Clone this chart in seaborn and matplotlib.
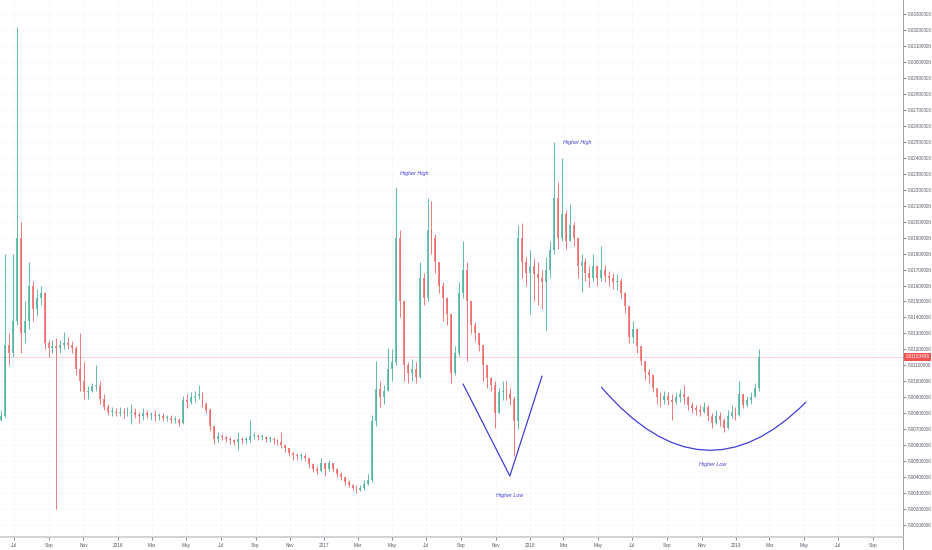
import numpy as np
import pandas as pd
import matplotlib
matplotlib.use("Agg")
import matplotlib.pyplot as plt
import matplotlib.dates as mdates
import matplotlib.transforms as mtransforms
from matplotlib.path import Path
from matplotlib.patches import PathPatch
import seaborn as sns

sns.set_theme(style="white")
plt.rcParams["font.family"] = ["Liberation Sans", "DejaVu Sans"]

# ---------------- data (weekly candles) ----------------
week_start = "2015-06-08"
first_open = 0.0076

close = [
    0.0078, 0.0123, 0.0118, 0.0138, 0.0190, 0.0130, 0.0138, 0.0160, 0.0145, 0.0152,
    0.0155, 0.0124, 0.0121, 0.0122, 0.0121, 0.0123, 0.0124, 0.0123, 0.0121, 0.0108,
    0.0100, 0.0093, 0.0094, 0.0097, 0.0097, 0.0089, 0.0084, 0.0081, 0.0081, 0.0080,
    0.0081, 0.0080, 0.0080, 0.0081, 0.0079, 0.0078, 0.0080, 0.0079, 0.0079, 0.0078,
    0.0078, 0.0077, 0.0077, 0.0076, 0.0076, 0.0074, 0.0088, 0.0087, 0.0090, 0.0091,
    0.0092, 0.0086, 0.0082, 0.0072, 0.0064, 0.0066, 0.0065, 0.0064, 0.0063, 0.0062,
    0.0064, 0.0063, 0.0063, 0.0066, 0.0066, 0.0065, 0.0065, 0.0064, 0.0064, 0.0063,
    0.0062, 0.0060, 0.0058, 0.0055, 0.0054, 0.0053, 0.0053, 0.0052, 0.0048, 0.0045,
    0.0044, 0.0049, 0.0045, 0.0049, 0.0045, 0.0042, 0.0040, 0.0037, 0.0035, 0.0033,
    0.0032, 0.0033, 0.0036, 0.0038, 0.0075, 0.0095, 0.0090, 0.0094, 0.0108, 0.0112,
    0.0190, 0.0150, 0.0110, 0.0105, 0.0108, 0.0103, 0.0165, 0.0152, 0.0195, 0.0190,
    0.0175, 0.0160, 0.0152, 0.0142, 0.0105, 0.0118, 0.0155, 0.0170, 0.0150, 0.0135,
    0.0130, 0.0123, 0.0110, 0.0102, 0.0098, 0.0080, 0.0093, 0.0094, 0.0092, 0.0089,
    0.0075, 0.0190, 0.0175, 0.0168, 0.0172, 0.0167, 0.0165, 0.0162, 0.0170, 0.0182,
    0.0215, 0.0190, 0.0205, 0.0188, 0.0198, 0.0190, 0.0172, 0.0175, 0.0168, 0.0165,
    0.0172, 0.0165, 0.0170, 0.0166, 0.0165, 0.0162, 0.0163, 0.0155, 0.0147, 0.0128,
    0.0133, 0.0122, 0.0113, 0.0106, 0.0104, 0.0096, 0.0090, 0.0088, 0.0091, 0.0088,
    0.0087, 0.0090, 0.0092, 0.0090, 0.0085, 0.0083, 0.0082, 0.0081, 0.0084, 0.0078,
    0.0074, 0.0078, 0.0076, 0.0071, 0.0078, 0.0081, 0.0079, 0.0092, 0.0085, 0.0088,
    0.0090, 0.0096, 0.01153,
]

high = [
    0.0082, 0.0180, 0.0130, 0.0180, 0.0322, 0.0200, 0.0150, 0.0175, 0.0163, 0.0158,
    0.0160, 0.0156, 0.0126, 0.0126, 0.0127, 0.0126, 0.0131, 0.0128, 0.0125, 0.0122,
    0.0130, 0.0112, 0.0097, 0.0099, 0.0110, 0.0100, 0.0092, 0.0086, 0.0084, 0.0083,
    0.0084, 0.0083, 0.0084, 0.0086, 0.0083, 0.0081, 0.0083, 0.0082, 0.0081, 0.0082,
    0.0080, 0.0080, 0.0079, 0.0079, 0.0078, 0.0077, 0.0091, 0.0092, 0.0093, 0.0094,
    0.0098, 0.0093, 0.0087, 0.0083, 0.0072, 0.0068, 0.0067, 0.0066, 0.0065, 0.0064,
    0.0068, 0.0065, 0.0065, 0.0076, 0.0068, 0.0067, 0.0067, 0.0066, 0.0066, 0.0065,
    0.0064, 0.0068, 0.0061, 0.0058, 0.0056, 0.0055, 0.0055, 0.0055, 0.0052, 0.0049,
    0.0047, 0.0052, 0.0049, 0.0051, 0.0049, 0.0046, 0.0043, 0.0040, 0.0038, 0.0036,
    0.0035, 0.0035, 0.0038, 0.0042, 0.0079, 0.0113, 0.0100, 0.0098, 0.0121, 0.0120,
    0.0222, 0.0195, 0.0150, 0.0112, 0.0114, 0.0112, 0.0175, 0.0168, 0.0215, 0.0213,
    0.0192, 0.0172, 0.0162, 0.0153, 0.0140, 0.0122, 0.0162, 0.0188, 0.0175, 0.0148,
    0.0137, 0.0130, 0.0123, 0.0110, 0.0103, 0.0100, 0.0096, 0.0100, 0.0100, 0.0096,
    0.0091, 0.0198, 0.0199, 0.0178, 0.0182, 0.0177, 0.0175, 0.0170, 0.0178, 0.0188,
    0.0250, 0.0225, 0.0240, 0.0207, 0.0211, 0.0200, 0.0190, 0.0180, 0.0177, 0.0172,
    0.0180, 0.0172, 0.0185, 0.0173, 0.0169, 0.0168, 0.0167, 0.0165, 0.0156, 0.0140,
    0.0138, 0.0132, 0.0121, 0.0112, 0.0108, 0.0104, 0.0096, 0.0093, 0.0094, 0.0093,
    0.0092, 0.0093, 0.0095, 0.0098, 0.0091, 0.0087, 0.0085, 0.0085, 0.0087, 0.0085,
    0.0080, 0.0082, 0.0081, 0.0077, 0.0082, 0.0085, 0.0084, 0.0100, 0.0092, 0.0091,
    0.0093, 0.0099, 0.0120,
]

low = [
    0.0075, 0.0077, 0.0110, 0.0115, 0.0135, 0.0118, 0.0124, 0.0133, 0.0138, 0.0141,
    0.0148, 0.0120, 0.0115, 0.0118, 0.0020, 0.0118, 0.0120, 0.0120, 0.0118, 0.0104,
    0.0094, 0.0089, 0.0089, 0.0093, 0.0094, 0.0086, 0.0082, 0.0079, 0.0078, 0.0078,
    0.0078, 0.0077, 0.0078, 0.0073, 0.0077, 0.0074, 0.0076, 0.0077, 0.0076, 0.0075,
    0.0076, 0.0075, 0.0075, 0.0074, 0.0074, 0.0072, 0.0073, 0.0083, 0.0086, 0.0087,
    0.0089, 0.0084, 0.0080, 0.0069, 0.0061, 0.0062, 0.0063, 0.0062, 0.0061, 0.0060,
    0.0057, 0.0061, 0.0061, 0.0062, 0.0064, 0.0063, 0.0063, 0.0062, 0.0062, 0.0061,
    0.0060, 0.0058, 0.0056, 0.0053, 0.0051, 0.0051, 0.0051, 0.0050, 0.0046, 0.0043,
    0.0042, 0.0043, 0.0041, 0.0044, 0.0043, 0.0040, 0.0038, 0.0035, 0.0034, 0.0032,
    0.0030, 0.0031, 0.0032, 0.0035, 0.0037, 0.0072, 0.0084, 0.0086, 0.0097, 0.0100,
    0.0110, 0.0140, 0.0100, 0.0099, 0.0100, 0.0099, 0.0102, 0.0148, 0.0150, 0.0180,
    0.0168, 0.0155, 0.0138, 0.0135, 0.0099, 0.0104, 0.0116, 0.0152, 0.0113, 0.0130,
    0.0125, 0.0119, 0.0100, 0.0096, 0.0094, 0.0071, 0.0080, 0.0088, 0.0088, 0.0085,
    0.0053, 0.0070, 0.0165, 0.0160, 0.0142, 0.0150, 0.0148, 0.0145, 0.0132, 0.0165,
    0.0180, 0.0183, 0.0188, 0.0183, 0.0190, 0.0185, 0.0165, 0.0156, 0.0163, 0.0159,
    0.0163, 0.0160, 0.0163, 0.0162, 0.0160, 0.0158, 0.0157, 0.0152, 0.0143, 0.0124,
    0.0124, 0.0118, 0.0110, 0.0101, 0.0099, 0.0093, 0.0086, 0.0084, 0.0086, 0.0085,
    0.0076, 0.0086, 0.0087, 0.0086, 0.0082, 0.0080, 0.0079, 0.0078, 0.0080, 0.0075,
    0.0071, 0.0073, 0.0072, 0.0068, 0.0070, 0.0077, 0.0076, 0.0078, 0.0083, 0.0084,
    0.0086, 0.0090, 0.0094,
]

last_price = 0.01153
last_price_label = "0.01153498"

price_ticks = [round(0.001 * k, 3) for k in range(1, 34)]

# annotation drawings (dates / prices)
v_dates = ["2017-09-04", "2017-11-26", "2018-01-22"]
v_prices = [0.00983, 0.00407, 0.01033]
arc_dates = ["2018-05-07", "2018-11-03", "2019-05-05"]   # start, control, end
arc_prices = [0.00964, 0.00222, 0.00870]
note_texts = ["Higher High", "Higher High", "Higher Low", "Higher Low"]
note_dates = ["2017-06-09", "2018-03-25", "2017-11-26", "2018-11-21"]
note_prices = [0.02304, 0.02498, 0.00288, 0.00482]

x_start, x_end = "2015-06-06", "2019-10-24"
y_min, y_max = 0.00025, 0.03388

# ---------------- figure ----------------
W, H = 932, 550
fig = plt.figure(figsize=(W / 100, H / 100), dpi=100)
fig.patch.set_facecolor("white")
ax = fig.add_axes([0, 13 / H, 903 / W, 537 / H])
ax.set_facecolor("white")

df = pd.DataFrame({
    "date": pd.date_range(week_start, periods=len(close), freq="7D"),
    "close": close, "high": high, "low": low,
})
df["open"] = [first_open] + close[:-1]
up_col, dn_col = "#4fb5a0", "#ee6b6b"
xs = mdates.date2num(df["date"])
o = df["open"].to_numpy(); c = df["close"].to_numpy()
hi = np.maximum(df["high"].to_numpy(), np.maximum(o, c))
lo = np.minimum(df["low"].to_numpy(), np.minimum(o, c))
is_up = c >= o
cols = np.where(is_up, up_col, dn_col)

# price line
ax.axhline(last_price, color="#f8d4d4", lw=0.8, zorder=1)

ax.vlines(xs, lo, hi, colors=cols, lw=0.7, alpha=0.9, zorder=2)
body_h = np.maximum(np.abs(c - o), 0.00006)
ax.bar(xs, body_h, bottom=np.minimum(o, c), width=3.4, color=cols,
       edgecolor="none", alpha=0.8, zorder=3)

# annotations
blue = "#3f3fd6"
sns.lineplot(x=pd.to_datetime(v_dates), y=v_prices, sort=False, ax=ax,
             color=blue, lw=0.9, zorder=4)
ad = mdates.date2num(pd.to_datetime(arc_dates))
arc = Path(list(zip(ad, arc_prices)), [Path.MOVETO, Path.CURVE3, Path.CURVE3])
ax.add_patch(PathPatch(arc, fill=False, ec=blue, lw=0.9, zorder=4))
for t, d, p in zip(note_texts, note_dates, note_prices):
    ax.text(pd.Timestamp(d), p, t, color=blue, fontsize=3.9, style="italic",
            ha="center", va="center", zorder=5)

# axes
ax.set_xlim(pd.Timestamp(x_start), pd.Timestamp(x_end))
ax.set_ylim(y_min, y_max)
ax.yaxis.tick_right()
ax.set_yticks(price_ticks)
ax.set_yticklabels([f"{v:.8f}" for v in price_ticks])
ax.xaxis.set_major_locator(mdates.MonthLocator(bymonth=[1, 3, 5, 7, 9, 11]))
labels = []
for d in mdates.num2date(ax.get_xticks()):
    labels.append(str(d.year) if d.month == 1 else d.strftime("%b"))
ax.set_xticks(ax.get_xticks())
ax.set_xticklabels(labels)
ax.tick_params(axis="y", right=True, left=False, length=2, width=0.5,
               colors="#555a66", labelsize=3.3, pad=1.2, direction="out")
ax.tick_params(axis="x", bottom=True, length=2, width=0.5,
               colors="#555a66", labelsize=3.4, pad=2.5, direction="out")
ax.set_xlabel(""); ax.set_ylabel("")
ax.grid(True, color="#f5f6f9", lw=0.5)
for s in ["top", "left"]:
    ax.spines[s].set_visible(False)
ax.spines["right"].set_color("#9ea2ab"); ax.spines["right"].set_linewidth(0.7)
ax.spines["bottom"].set_color("#c9cbd0"); ax.spines["bottom"].set_linewidth(1.2)
fig.add_artist(plt.Line2D([903 / W, 903 / W], [0, 13 / H], color="#9ea2ab", lw=0.7))

# last price label
trans = mtransforms.blended_transform_factory(ax.transAxes, ax.transData)
ax.text(1.003, last_price, last_price_label, transform=trans, color="white",
        fontsize=3.3, ha="left", va="center", clip_on=False, zorder=6,
        bbox=dict(boxstyle="square,pad=0.35", fc="#ef5350", ec="none"))

fig.savefig("out.png", dpi=100, facecolor="white")
